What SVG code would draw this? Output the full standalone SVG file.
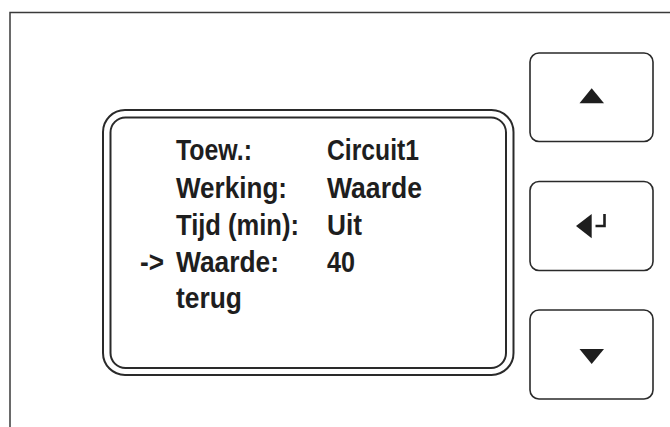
<svg xmlns="http://www.w3.org/2000/svg" width="670" height="427" viewBox="0 0 670 427">
<style>
.frame{fill:none;stroke:#3a3a3a;stroke-width:1.5}
.disp{fill:none;stroke:#2a2a2a;stroke-width:2}
.btn{fill:#fff;stroke:#2a2a2a;stroke-width:1.6}
.sym{fill:#1e1e1e}
.t{font-family:"Liberation Sans",Arial,sans-serif;font-weight:bold;font-size:29px;fill:#1e1e1e}
</style>
<rect width="670" height="427" fill="#fff"/>
<g id="frame">
<path class="frame" d="M10 427 V12.5 H670"/>
</g>
<g id="display">
<rect class="disp" x="103" y="110" width="410.5" height="265" rx="22"/>
<rect class="disp" x="110.5" y="117.5" width="395.5" height="250.5" rx="15"/>
<text class="t" x="176" y="160" textLength="76" lengthAdjust="spacingAndGlyphs">Toew.:</text>
<text class="t" x="176" y="197.5" textLength="111" lengthAdjust="spacingAndGlyphs">Werking:</text>
<text class="t" x="176" y="234.5" textLength="123" lengthAdjust="spacingAndGlyphs">Tijd (min):</text>
<text class="t" x="140" y="271.5" textLength="24" lengthAdjust="spacingAndGlyphs">-&gt;</text>
<text class="t" x="176" y="271.5" textLength="103" lengthAdjust="spacingAndGlyphs">Waarde:</text>
<text class="t" x="176" y="308" textLength="66" lengthAdjust="spacingAndGlyphs">terug</text>
<text class="t" x="327" y="160" textLength="92" lengthAdjust="spacingAndGlyphs">Circuit1</text>
<text class="t" x="327" y="197.5" textLength="95" lengthAdjust="spacingAndGlyphs">Waarde</text>
<text class="t" x="327" y="234.5" textLength="35" lengthAdjust="spacingAndGlyphs">Uit</text>
<text class="t" x="327" y="271.5" textLength="28" lengthAdjust="spacingAndGlyphs">40</text>
</g>
<g id="btn-up">
<rect class="btn" x="530" y="53" width="123" height="88.5" rx="9"/>
<polygon class="sym" points="591.7,88.3 604,103.3 579.5,103.3"/>
</g>
<g id="btn-enter">
<rect class="btn" x="530" y="181.5" width="123" height="89" rx="9"/>
<polygon class="sym" points="576,226 591.7,214 591.7,238.3"/>
<path d="M595.5 226 H604.5 V214" fill="none" stroke="#1e1e1e" stroke-width="2.6"/>
</g>
<g id="btn-down">
<rect class="btn" x="530" y="310" width="123" height="89" rx="9"/>
<polygon class="sym" points="579.5,349 604,349 591.7,364"/>
</g>
<g id="connectors"></g>
</svg>
